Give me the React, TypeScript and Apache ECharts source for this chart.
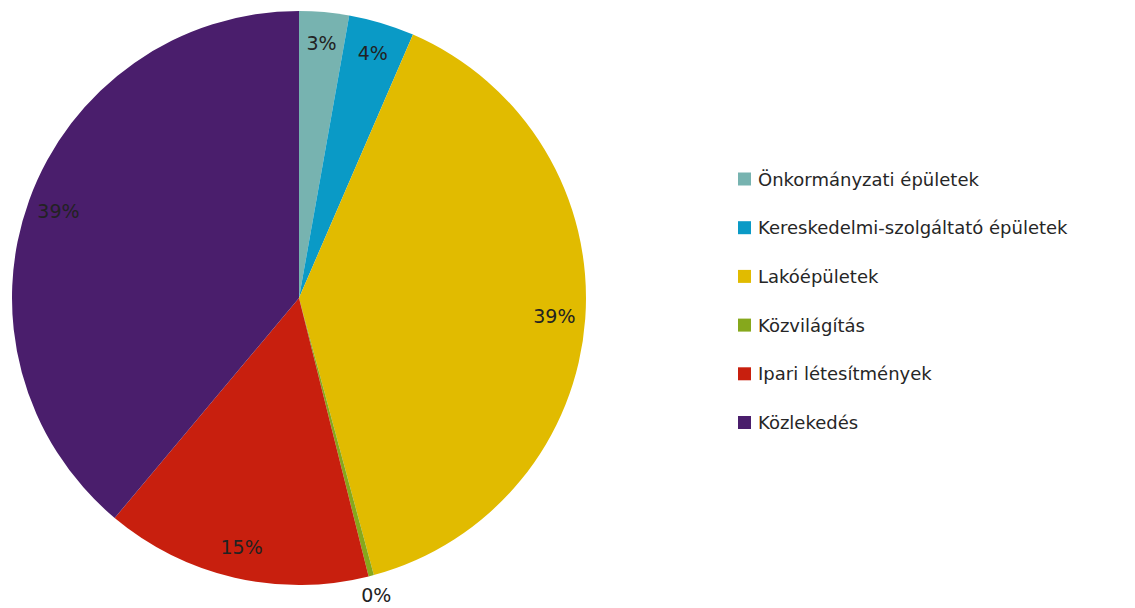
import React, { useEffect, useRef } from "react";
import * as echarts from "echarts";

const categories = [
  "Önkormányzati épületek",
  "Kereskedelmi-szolgáltató épületek",
  "Lakóépületek",
  "Közvilágítás",
  "Ipari létesítmények",
  "Közlekedés",
];
const values = [2.8, 3.7, 39.3, 0.3, 15.0, 38.9];
const colors = ["#77B3B0", "#0A9AC6", "#E1BB00", "#86A81C", "#C81F0E", "#4A1E6C"];
const outsideLabelIndex = [3];

export default function App() {
  const ref = useRef<HTMLDivElement>(null);
  useEffect(() => {
    if (!ref.current) return;
    const chart = echarts.init(ref.current, null, { renderer: "svg" });
    const fmt = (p: any) => Math.round(p.percent) + "%";
    const labelStyle = {
      color: "#222222",
      fontFamily: "DejaVu Sans",
      fontSize: 19,
      formatter: fmt,
    };
    const baseData = categories.map((name, i) => ({
      name,
      value: values[i],
      itemStyle: { color: colors[i] },
    }));
    chart.setOption({
      animation: false,
      legend: {
        orient: "vertical",
        left: 733,
        top: 164,
        itemWidth: 13,
        itemHeight: 13,
        itemGap: 28.7,
        icon: "rect",
        selectedMode: false,
        data: categories,
        textStyle: {
          color: "#262626",
          fontFamily: "DejaVu Sans",
          fontSize: 18,
          lineHeight: 20,
          padding: [0, 0, 0, 2],
        },
      },
      series: [
        {
          type: "pie",
          center: [299, 298],
          radius: [0, 287],
          startAngle: 90,
          clockwise: true,
          label: { show: false },
          labelLine: { show: false },
          silent: true,
          data: baseData,
        },
        {
          type: "pie",
          center: [299, 298],
          radius: [219, 287],
          startAngle: 90,
          clockwise: true,
          silent: true,
          itemStyle: { color: "transparent" },
          label: { show: true, position: "inside", ...labelStyle },
          labelLine: { show: false },
          data: categories.map((name, i) => ({
            name,
            value: values[i],
            itemStyle: { color: "transparent" },
            label: { show: !outsideLabelIndex.includes(i) },
          })),
        },
        {
          type: "pie",
          center: [299, 298],
          radius: [296, 312],
          startAngle: 90,
          clockwise: true,
          silent: true,
          itemStyle: { color: "transparent" },
          label: { show: true, position: "inside", ...labelStyle },
          labelLine: { show: false },
          data: categories.map((name, i) => ({
            name,
            value: values[i],
            itemStyle: { color: "transparent" },
            label: { show: outsideLabelIndex.includes(i) },
          })),
        },
      ],
    });
    return () => chart.dispose();
  }, []);
  return (
    <div
      ref={ref}
      style={{ position: "fixed", left: 0, top: 0, width: 1135, height: 608, background: "#fff" }}
    />
  );
}
